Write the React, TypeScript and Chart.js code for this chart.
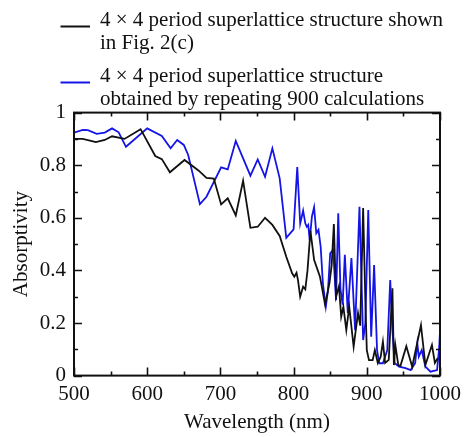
import React, { useEffect, useRef } from 'react';
import { Chart, registerables } from 'chart.js';

Chart.register(...registerables);

// ---- Data ----
const blackWavelength = [
  500, 512, 530, 542, 552, 569, 591, 611, 620, 631, 651, 670, 681, 691, 701, 710, 721, 731, 741, 751,
  761, 771, 781, 790, 798, 801, 804, 806, 809, 813, 816, 819, 823, 828, 836, 843, 849, 852, 855, 858,
  862, 865, 868, 872, 876, 882, 888, 891, 895, 898, 900, 903, 908, 911, 915, 919, 922, 925, 930, 935, 937,
  939, 943, 946, 954, 962, 974, 980, 989, 993, 997,
];
const blackAbsorptivity = [
  0.90, 0.90, 0.888, 0.896, 0.91, 0.90, 0.937, 0.835, 0.823, 0.773, 0.82, 0.78, 0.752, 0.749, 0.651, 0.674, 0.609, 0.741, 0.562, 0.566,
  0.60, 0.573, 0.531, 0.452, 0.389, 0.376, 0.391, 0.363, 0.30, 0.338, 0.328, 0.40, 0.55, 0.44, 0.376, 0.27, 0.352, 0.42, 0.576, 0.30,
  0.34, 0.224, 0.262, 0.173, 0.262, 0.11, 0.238, 0.19, 0.637, 0.287, 0.097, 0.059, 0.059, 0.097, 0.048, 0.072, 0.129, 0.048, 0.06, 0.332, 0.04,
  0.116, 0.04, 0.037, 0.112, 0.034, 0.192, 0.04, 0.116, 0.048, 0.067,
];

const blueWavelength = [
  500, 512, 519, 531, 542, 552, 561, 571, 600, 620, 632, 641, 650, 656, 672, 681, 701, 710, 721, 741,
  751, 761, 771, 781, 790, 800, 805, 809, 813, 816, 818, 820, 822, 825, 828, 831, 834, 837, 840, 844,
  847, 850, 854, 858, 861, 864, 867, 870, 874, 879, 884, 890, 895, 898, 902, 906, 910, 914, 917,
  922, 928, 932, 935, 938, 944, 953, 960, 966, 969, 971, 975, 980, 987, 996, 999, 1000,
];
const blueAbsorptivity = [
  0.924, 0.934, 0.933, 0.919, 0.924, 0.94, 0.925, 0.87, 0.94, 0.911, 0.864, 0.896, 0.877, 0.839, 0.652, 0.68, 0.792, 0.784, 0.892, 0.76,
  0.822, 0.756, 0.864, 0.75, 0.524, 0.556, 0.793, 0.578, 0.627, 0.579, 0.566, 0.573, 0.516, 0.604, 0.64, 0.541, 0.554, 0.49, 0.351, 0.262,
  0.325, 0.465, 0.478, 0.287, 0.617, 0.33, 0.27, 0.459, 0.238, 0.447, 0.173, 0.642, 0.135, 0.2, 0.63, 0.148, 0.42, 0.097, 0.047,
  0.047, 0.097, 0.363, 0.173, 0.048, 0.034, 0.028, 0.021, 0.047, 0.123, 0.072, 0.097, 0.034, 0.015, 0.021, 0.11, 0.17,
];

const seriesLabels = [
  ['4 × 4 period superlattice structure shown', 'in Fig. 2(c)'],
  ['4 × 4 period superlattice structure', 'obtained by repeating 900 calculations'],
];
const seriesColors = ['#111111', '#1414e6'];

const xMajorTicks = [500, 600, 700, 800, 900, 1000];
const xMinorTicks = [550, 650, 750, 850, 950];
const yMajorTicks = [0, 0.2, 0.4, 0.6, 0.8, 1];
const yMinorTicks = [0.1, 0.3, 0.5, 0.7, 0.9];

const FONT = "'Liberation Serif', 'Times New Roman', serif";

const framePlugin = {
  id: 'frameTicks',
  afterDraw(chart: any) {
    const { ctx, chartArea } = chart;
    const { left, right, top, bottom } = chartArea;
    const xs = chart.scales.x;
    const ys = chart.scales.y;
    ctx.save();
    ctx.strokeStyle = '#111';
    ctx.lineWidth = 1.6;
    ctx.beginPath();
    const drawX = (v: number, len: number) => {
      const px = Math.round(xs.getPixelForValue(v)) + 0.5;
      ctx.moveTo(px, bottom); ctx.lineTo(px, bottom - len);
      ctx.moveTo(px, top); ctx.lineTo(px, top + len);
    };
    const drawY = (v: number, len: number) => {
      const py = Math.round(ys.getPixelForValue(v)) + 0.5;
      ctx.moveTo(left, py); ctx.lineTo(left + len, py);
      ctx.moveTo(right, py); ctx.lineTo(right - len, py);
    };
    xMajorTicks.forEach((v) => drawX(v, 8));
    xMinorTicks.forEach((v) => drawX(v, 4));
    yMajorTicks.forEach((v) => drawY(v, 8));
    yMinorTicks.forEach((v) => drawY(v, 4));
    ctx.stroke();
    ctx.lineWidth = 2;
    ctx.strokeRect(left, top, right - left, bottom - top);
    ctx.restore();
  },
};

const legendPlugin = {
  id: 'customLegend',
  afterDraw(chart: any) {
    const { ctx } = chart;
    ctx.save();
    ctx.font = `21px ${FONT}`;
    ctx.fillStyle = '#111';
    ctx.textBaseline = 'alphabetic';
    ctx.textAlign = 'left';
    const entryTops = [26, 82];
    chart.data.datasets.forEach((ds: any, i: number) => {
      const base = entryTops[i];
      ctx.strokeStyle = ds.borderColor;
      ctx.lineWidth = 2;
      ctx.beginPath();
      ctx.moveTo(60.5, base + 0.5);
      ctx.lineTo(90, base + 0.5);
      ctx.stroke();
      const lines: string[] = ds.label;
      lines.forEach((t, j) => {
        ctx.fillText(t, 100, base + j * 22.5);
      });
    });
    ctx.restore();
  },
};

export default function App() {
  const canvasRef = useRef<HTMLCanvasElement | null>(null);

  useEffect(() => {
    if (!canvasRef.current) return;
    Chart.defaults.font.family = FONT;
    const chart = new Chart(canvasRef.current, {
      type: 'line',
      data: {
        datasets: [
          {
            label: seriesLabels[0] as any,
            data: blackWavelength.map((w, i) => ({ x: w, y: blackAbsorptivity[i] })),
            borderColor: seriesColors[0],
            borderWidth: 1.8,
            pointRadius: 0,
            tension: 0,
            fill: false,
          },
          {
            label: seriesLabels[1] as any,
            data: blueWavelength.map((w, i) => ({ x: w, y: blueAbsorptivity[i] })),
            borderColor: seriesColors[1],
            borderWidth: 1.8,
            pointRadius: 0,
            tension: 0,
            fill: false,
          },
        ],
      },
      options: {
        responsive: false,
        animation: false,
        layout: { padding: { left: 0, top: 112.6, right: 22, bottom: 0 } },
        plugins: {
          legend: { display: false },
          tooltip: { enabled: false },
        },
        scales: {
          x: {
            type: 'linear',
            min: 500,
            max: 1000,
            afterFit: (s: any) => { s.height = 437 - 375.6; },
            afterBuildTicks: (s: any) => { s.ticks = xMajorTicks.map((v) => ({ value: v })); },
            grid: { display: false, drawTicks: false },
            border: { display: false },
            ticks: {
              color: '#111', font: { size: 21 }, padding: 6, maxRotation: 0, autoSkip: false,
              callback: (v: any) => String(v),
            },
            title: { display: true, text: 'Wavelength (nm)', color: '#111', font: { size: 21 }, padding: { top: 0, bottom: 2 } },
          },
          y: {
            type: 'linear',
            min: 0,
            max: 1,
            afterFit: (s: any) => { s.width = 74; },
            afterBuildTicks: (s: any) => { s.ticks = yMajorTicks.map((v) => ({ value: v })); },
            grid: { display: false, drawTicks: false },
            border: { display: false },
            ticks: {
              color: '#111', font: { size: 21 }, padding: 8, autoSkip: false,
              callback: (v: any) => String(v),
            },
            title: { display: true, text: 'Absorptivity', color: '#111', font: { size: 21 }, padding: { top: 9, bottom: 0 } },
          },
        },
      },
      plugins: [framePlugin, legendPlugin],
    });
    return () => chart.destroy();
  }, []);

  return (
    <div style={{ position: 'absolute', left: 0, top: 0, width: 467, height: 437, background: '#fff' }}>
      <canvas ref={canvasRef} width={467} height={437} />
    </div>
  );
}
